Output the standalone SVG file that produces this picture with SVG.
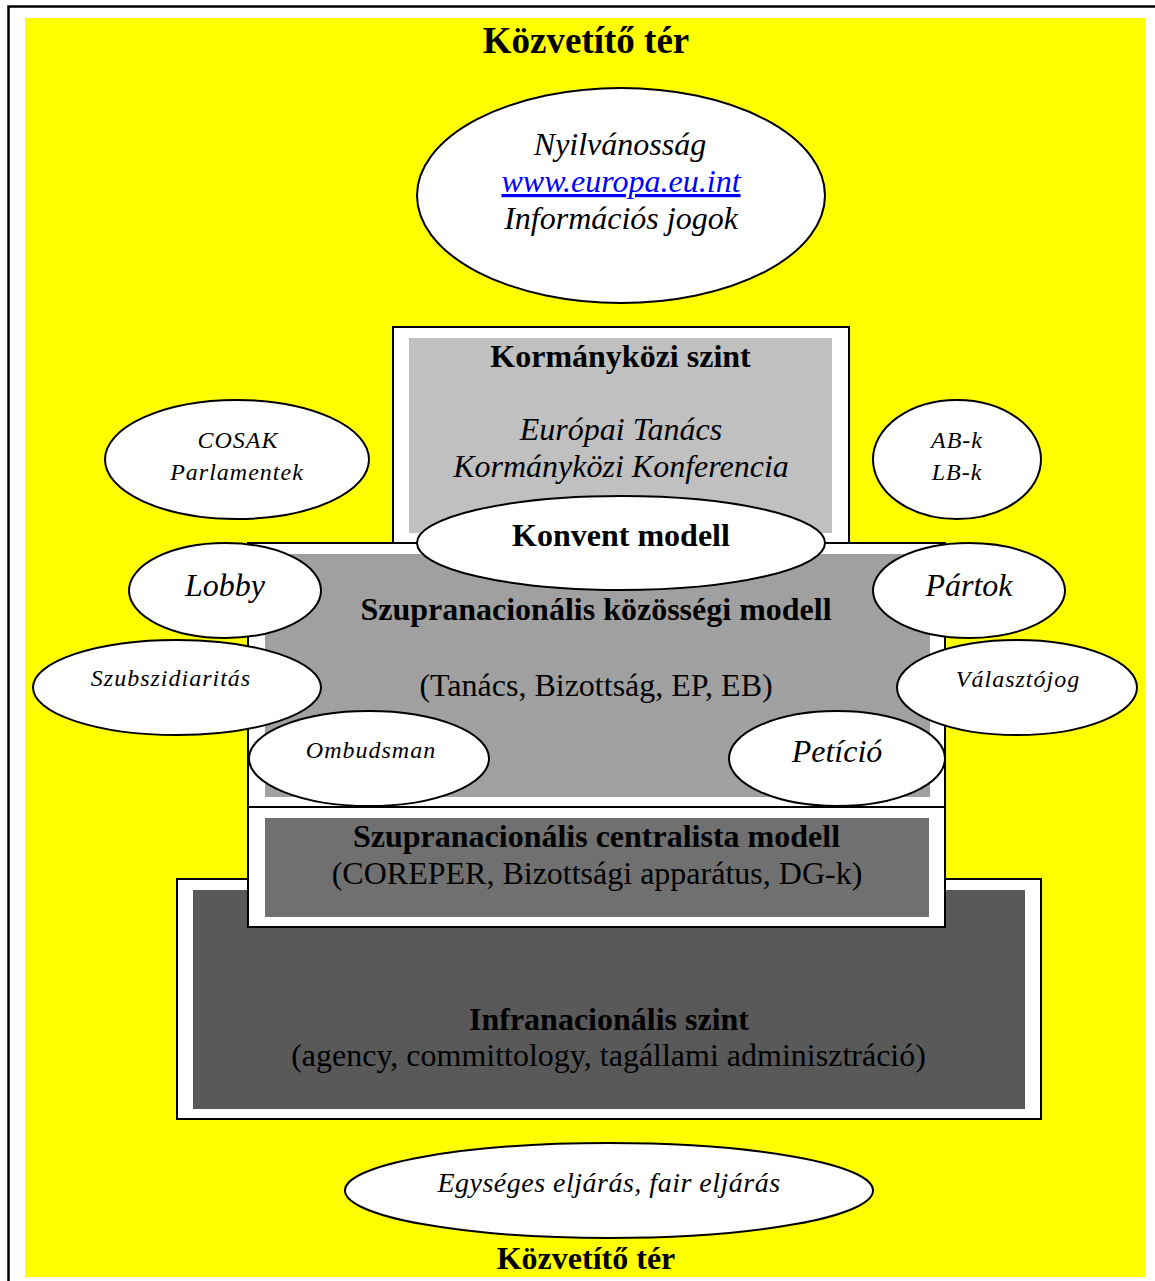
<svg xmlns="http://www.w3.org/2000/svg" width="1155" height="1281" viewBox="0 0 1155 1281">
<style>
.box{fill:#fff;stroke:#000;stroke-width:2}
.el{fill:#fff;stroke:#000;stroke-width:2}
text{font-family:"Liberation Serif","Times New Roman",serif;text-anchor:middle;fill:#000}
.b{font-weight:bold;font-size:32px}
.i{font-style:italic;font-size:32px}
.r{font-size:32px}
.s{font-style:italic;font-size:24px;letter-spacing:1px}
</style>
<rect x="0" y="0" width="1155" height="1281" fill="#fff"/>
<g id="frame">
<path d="M8.5 1281 V6.5 H1155" fill="none" stroke="#000" stroke-width="2.5"/>
<rect x="25" y="18" width="1120" height="1259" fill="#ffff00"/>
</g>
<g id="title-top"><text class="b" x="586" y="53" style="font-size:37px">Közvetítő tér</text></g>
<g id="nyilvanossag">
<ellipse class="el" cx="621" cy="195.5" rx="204" ry="107.5"/>
<text class="i" x="620" y="155">Nyilvánosság</text>
<text class="i" x="621" y="192" fill="#0000ff" style="fill:#0000ff;text-decoration:underline">www.europa.eu.int</text>
<text class="i" x="621" y="229">Információs jogok</text>
</g>
<g id="kormanykozi">
<rect class="box" x="393" y="327" width="456" height="220"/>
<rect x="409" y="338" width="423" height="195" fill="#c0c0c0"/>
<text class="b" x="620.5" y="367">Kormányközi szint</text>
<text class="i" x="621" y="440">Európai Tanács</text>
<text class="i" x="621" y="477">Kormányközi Konferencia</text>
</g>
<g id="infranacionalis">
<rect class="box" x="177" y="879" width="864" height="240"/>
<rect x="193" y="890" width="832" height="219" fill="#595959"/>
<text class="b" x="609" y="1030">Infranacionális szint</text>
<text class="r" x="608.5" y="1066">(agency, committology, tagállami adminisztráció)</text>
</g>
<g id="kozossegi">
<rect class="box" x="248" y="543" width="697" height="264"/>
<rect x="265" y="554" width="665" height="243" fill="#a0a0a0"/>
<text class="b" x="596" y="620">Szupranacionális közösségi modell</text>
<text class="r" x="596" y="696">(Tanács, Bizottság, EP, EB)</text>
</g>
<g id="centralista">
<rect class="box" x="248" y="807" width="697" height="120"/>
<rect x="265" y="818" width="664" height="99" fill="#707070"/>
<text class="b" x="596.5" y="847">Szupranacionális centralista modell</text>
<text class="r" x="597" y="884">(COREPER, Bizottsági apparátus, DG-k)</text>
</g>
<g id="cosak">
<ellipse class="el" cx="237" cy="459.5" rx="132" ry="59.5"/>
<text class="s" x="238" y="448">COSAK</text>
<text class="s" x="237" y="480">Parlamentek</text>
</g>
<g id="abk">
<ellipse class="el" cx="957" cy="459.5" rx="84" ry="59.5"/>
<text class="s" x="957" y="448">AB-k</text>
<text class="s" x="957" y="480">LB-k</text>
</g>
<g id="konvent">
<ellipse class="el" cx="621" cy="543" rx="204" ry="47"/>
<text class="b" x="621" y="546">Konvent modell</text>
</g>
<g id="lobby">
<ellipse class="el" cx="225" cy="590.5" rx="96" ry="47.5"/>
<text class="i" x="225" y="596">Lobby</text>
</g>
<g id="partok">
<ellipse class="el" cx="969" cy="590.5" rx="96" ry="47.5"/>
<text class="i" x="969" y="596">Pártok</text>
</g>
<g id="szubszidiaritas">
<ellipse class="el" cx="177" cy="687.5" rx="144" ry="47.5"/>
<text class="s" x="171" y="686">Szubszidiaritás</text>
</g>
<g id="valasztojog">
<ellipse class="el" cx="1017" cy="687.5" rx="120" ry="47.5"/>
<text class="s" x="1018" y="687">Választójog</text>
</g>
<g id="ombudsman">
<ellipse class="el" cx="369" cy="758.5" rx="120" ry="47.5"/>
<text class="s" x="371" y="758">Ombudsman</text>
</g>
<g id="peticio">
<ellipse class="el" cx="837" cy="758.5" rx="108" ry="47.5"/>
<text class="i" x="837" y="762">Petíció</text>
</g>
<g id="egyseges">
<ellipse class="el" cx="609" cy="1190.5" rx="264" ry="47.5"/>
<text class="i" x="609" y="1192" style="font-size:28px;letter-spacing:0.5px">Egységes eljárás, fair eljárás</text>
</g>
<g id="title-bottom"><text class="b" x="586" y="1269">Közvetítő tér</text></g>
<g id="connectors"></g>
</svg>
